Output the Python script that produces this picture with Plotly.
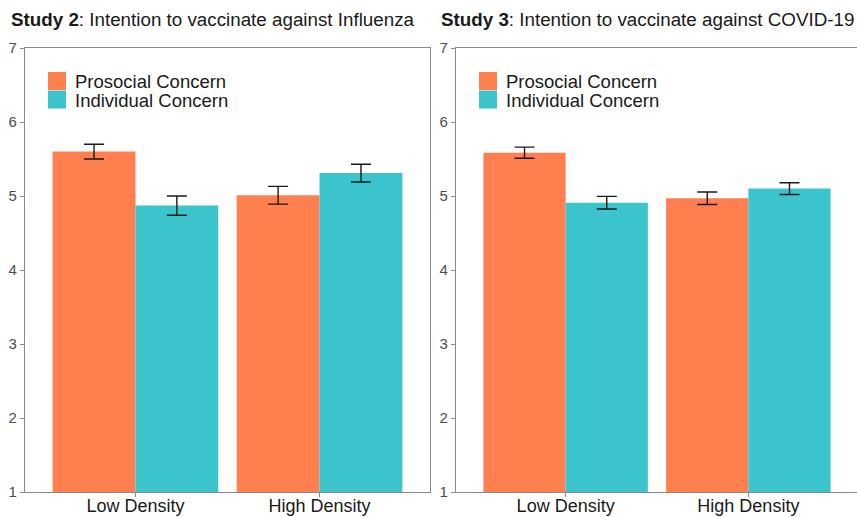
import plotly.graph_objects as go

categories = ["Low Density", "High Density"]
groups = ["Prosocial Concern", "Individual Concern"]

s2_prosocial = [5.60, 5.01]
s2_prosocial_err = [0.10, 0.12]
s2_individual = [4.87, 5.31]
s2_individual_err = [0.13, 0.12]

s3_prosocial = [5.585, 4.97]
s3_prosocial_err = [0.075, 0.085]
s3_individual = [4.91, 5.10]
s3_individual_err = [0.085, 0.08]

titles = ["<b>Study 2</b>: Intention to vaccinate against Influenza",
          "<b>Study 3</b>: Intention to vaccinate against COVID-19"]
yticks = [1, 2, 3, 4, 5, 6, 7]

ORANGE = "#FF7F4E"
CYAN = "#3BC4CC"
GREY = "#8A8A8A"
W, H = 857, 517

fig = go.Figure()

panels = [
    (s2_prosocial, s2_prosocial_err, s2_individual, s2_individual_err, "x", "y"),
    (s3_prosocial, s3_prosocial_err, s3_individual, s3_individual_err, "x2", "y2"),
]
for pv, pe, iv, ie, xa, ya in panels:
    for vals, errs, col, name in [(pv, pe, ORANGE, groups[0]), (iv, ie, CYAN, groups[1])]:
        fig.add_trace(go.Bar(
            x=categories, y=vals, name=name, marker=dict(color=col, line=dict(width=0)),
            error_y=dict(type="data", array=errs, visible=True, color="#1a1a1a",
                         thickness=1.4, width=10),
            xaxis=xa, yaxis=ya, showlegend=False))

top_px, bot_px = 48, 492
ydom = [1 - bot_px / H, 1 - top_px / H]
xdom1 = [25 / W, 430 / W]
xdom2 = [456 / W, 1.0]

axis_common = dict(showline=True, linecolor=GREY, linewidth=1.2, mirror=True,
                   showgrid=False, zeroline=False, ticks="outside", ticklen=4,
                   tickcolor=GREY, tickwidth=1)

fig.update_layout(
    width=W, height=H, margin=dict(l=0, r=0, t=0, b=0, autoexpand=False),
    paper_bgcolor="white", plot_bgcolor="white",
    barmode="group", bargap=0.1, bargroupgap=0,
    font=dict(family="Liberation Sans, Arial, sans-serif"),
    xaxis=dict(domain=xdom1, anchor="y", range=[-0.6, 1.6], ticklabelstandoff=-7,
               tickfont=dict(size=18, color="#1a1a1a"), **axis_common),
    yaxis=dict(domain=ydom, anchor="x", range=[1, 7], tickvals=yticks,
               tickfont=dict(size=15, color="#4d4d4d"), **axis_common),
    xaxis2=dict(domain=xdom2, anchor="y2", range=[-0.6, 1.6 - 1 / 183], ticklabelstandoff=-7,
                tickfont=dict(size=18, color="#1a1a1a"), **axis_common),
    yaxis2=dict(domain=ydom, anchor="x2", range=[1, 7], tickvals=yticks,
                tickfont=dict(size=15, color="#4d4d4d"), **axis_common),
)

# titles
for t, xpx in zip(titles, [11, 441]):
    fig.add_annotation(text=t, xref="paper", yref="paper", x=xpx / W, y=1 - 20 / H,
                       xanchor="left", yanchor="middle", showarrow=False,
                       borderpad=0, borderwidth=0,
                       font=dict(size=18.8, color="#1a1a1a"))

# legends (keys + labels) inside each panel
for axleft in [25, 456]:
    keyx0 = axleft + 23
    for i, (name, col) in enumerate(zip(groups, [ORANGE, CYAN])):
        y0 = 72 + i * 18.5
        fig.add_shape(type="rect", xref="paper", yref="paper",
                      x0=keyx0 / W, x1=(keyx0 + 18) / W,
                      y0=1 - (y0 + 18) / H, y1=1 - y0 / H,
                      fillcolor=col, line=dict(width=0))
        fig.add_annotation(text=name, xref="paper", yref="paper",
                           x=(keyx0 + 27) / W, y=1 - (y0 + 9) / H,
                           xanchor="left", yanchor="middle", showarrow=False,
                           borderpad=0, borderwidth=0, height=18, valign="middle",
                           font=dict(size=18.5, color="#1a1a1a"))

fig.write_html("out.html", config={"displayModeBar": False},
               post_script="document.body.style.margin='0';document.body.style.overflow='hidden';")
